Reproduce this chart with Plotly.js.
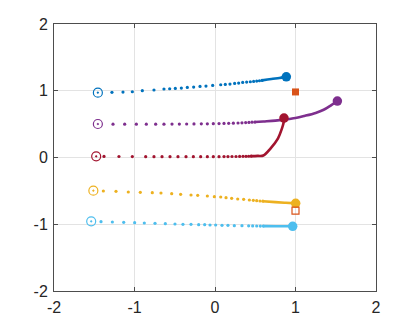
<!DOCTYPE html>
<html>
<head>
<meta charset="utf-8">
<script src="https://cdn.plot.ly/plotly-3.0.1.min.js"></script>
<style>
  html, body { margin: 0; padding: 0; background: #fff; }
  #plot { width: 415px; height: 327px; }
</style>
</head>
<body>
<div id="plot"></div>
<script>
// colours (MATLAB default order)
var names = ['blue', 'purple', 'red', 'yellow', 'cyan'];
var colors = ['#0072BD', '#7E2F8E', '#A2142F', '#EDB120', '#4DBEEE'];

// tick labels (plain hyphen like the reference)
var tickVals = [-2, -1, 0, 1, 2];
var tickText = ['-2', '-1', '0', '1', '2'];

// start points (open circle with dot)
var startX = [-1.455, -1.455, -1.476, -1.511, -1.538];
var startY = [0.971, 0.502, 0.018, -0.497, -0.956];

// end points (filled circle)
var endX = [0.886, 1.520, 0.857, 1.002, 0.965];
var endY = [1.208, 0.846, 0.590, -0.687, -1.031];

// sparse dots of each trajectory
var blueDotsX = [-1.280, -1.143, -1.027, -0.903, -0.758, -0.634, -0.563, -0.493, -0.418, -0.344,
  -0.265, -0.186, -0.112, -0.029, 0.071, 0.128, 0.186, 0.244, 0.294, 0.344, 0.393, 0.439, 0.480, 0.518, 0.552, 0.584];
var blueDotsY = [0.977, 0.980, 0.985, 1.001, 1.011, 1.026, 1.030, 1.035, 1.040, 1.050,
  1.055, 1.065, 1.070, 1.080, 1.090, 1.095, 1.100, 1.110, 1.115, 1.125, 1.130, 1.135, 1.140, 1.145, 1.150, 1.155];

var purpleDotsX = [-1.267, -1.122, -0.977, -0.853, -0.737, -0.634, -0.534, -0.443, -0.352, -0.261,
  -0.170, -0.095, -0.021, 0.050, 0.112, 0.170, 0.228, 0.286, 0.335, 0.381, 0.422, 0.460, 0.495];
var purpleDotsY = [0.500, 0.499, 0.499, 0.499, 0.500, 0.500, 0.501, 0.501, 0.502, 0.503,
  0.504, 0.505, 0.506, 0.508, 0.510, 0.512, 0.514, 0.517, 0.520, 0.523, 0.526, 0.529, 0.531];

var redDotsX = [-1.379, -1.193, -1.027, -0.861, -0.758, -0.658, -0.559, -0.460, -0.360, -0.269,
  -0.178, -0.095, -0.021, 0.050, 0.112, 0.161, 0.211, 0.261, 0.306, 0.348, 0.385, 0.418, 0.448];
var redDotsY = [0.016, 0.015, 0.014, 0.013, 0.013, 0.012, 0.012, 0.012, 0.012, 0.012,
  0.012, 0.012, 0.013, 0.013, 0.014, 0.014, 0.015, 0.015, 0.016, 0.017, 0.018, 0.019, 0.020];

var yellowDotsX = [-1.387, -1.230, -1.077, -0.928, -0.779, -0.671, -0.538, -0.427, -0.298, -0.215,
  -0.095, -0.008, 0.071, 0.137, 0.207, 0.282, 0.356, 0.427, 0.476, 0.518, 0.559, 0.595];
var yellowDotsY = [-0.502, -0.507, -0.517, -0.522, -0.527, -0.532, -0.542, -0.552, -0.562, -0.567,
  -0.577, -0.587, -0.592, -0.602, -0.612, -0.622, -0.627, -0.637, -0.642, -0.647, -0.652, -0.655];

var cyanDotsX = [-1.416, -1.275, -1.134, -0.998, -0.878, -0.745, -0.617, -0.497, -0.398, -0.298,
  -0.203, -0.128, -0.062, 0.008, 0.087, 0.161, 0.240, 0.335, 0.418, 0.468, 0.518, 0.563, 0.600];
var cyanDotsY = [-0.961, -0.966, -0.971, -0.976, -0.981, -0.986, -0.991, -0.996, -1.001, -1.001,
  -1.006, -1.006, -1.011, -1.011, -1.016, -1.016, -1.021, -1.021, -1.024, -1.025, -1.026, -1.027, -1.028];

// dense tails (dots merged into a line)
var blueTailX = [0.584, 0.700, 0.800, 0.886];
var blueTailY = [1.155, 1.176, 1.192, 1.208];

var purpleTailX = [0.495, 0.600, 0.750, 0.860, 1.000, 1.110, 1.250, 1.350, 1.445, 1.520];
var purpleTailY = [0.531, 0.540, 0.553, 0.568, 0.593, 0.623, 0.668, 0.715, 0.785, 0.846];

var redTailX = [0.448, 0.530, 0.600, 0.691, 0.783, 0.832, 0.852, 0.857];
var redTailY = [0.020, 0.024, 0.030, 0.138, 0.288, 0.437, 0.520, 0.590];

var yellowTailX = [0.595, 0.750, 0.880, 1.002];
var yellowTailY = [-0.655, -0.669, -0.679, -0.687];

var cyanTailX = [0.600, 0.750, 0.870, 0.965];
var cyanTailY = [-1.028, -1.029, -1.030, -1.031];

// target squares
var filledSqX = [1.0], filledSqY = [0.982];
var openSqX = [1.0], openSqY = [-0.797];
var squareColor = '#D95319';

var dotsX = [blueDotsX, purpleDotsX, redDotsX, yellowDotsX, cyanDotsX];
var dotsY = [blueDotsY, purpleDotsY, redDotsY, yellowDotsY, cyanDotsY];
var tailX = [blueTailX, purpleTailX, redTailX, yellowTailX, cyanTailX];
var tailY = [blueTailY, purpleTailY, redTailY, yellowTailY, cyanTailY];

var data = [];
for (var i = 0; i < names.length; i++) {
    data.push({
        x: dotsX[i], y: dotsY[i],
        type: 'scatter', mode: 'markers',
        marker: {color: colors[i], size: 3.2},
        hoverinfo: 'skip'
    });
    data.push({
        x: tailX[i], y: tailY[i],
        type: 'scatter', mode: 'lines',
        line: {color: colors[i], width: 2.6, shape: 'spline'},
        hoverinfo: 'skip'
    });
}
for (var j = 0; j < names.length; j++) {
    data.push({
        x: [startX[j]], y: [startY[j]],
        type: 'scatter', mode: 'markers',
        marker: {symbol: 'circle-open-dot', color: colors[j], size: 9, line: {width: 1.2, color: colors[j]}},
        hoverinfo: 'skip'
    });
    data.push({
        x: [endX[j]], y: [endY[j]],
        type: 'scatter', mode: 'markers',
        marker: {symbol: 'circle', color: colors[j], size: 9.5},
        hoverinfo: 'skip'
    });
}
data.push({
    x: filledSqX, y: filledSqY,
    type: 'scatter', mode: 'markers',
    marker: {symbol: 'square', color: squareColor, size: 7}
});
data.push({
    x: openSqX, y: openSqY,
    type: 'scatter', mode: 'markers',
    marker: {symbol: 'square-open', color: squareColor, size: 7, line: {width: 1.2}}
});

var axisCommon = {
    range: [-2, 2],
    tickmode: 'array',
    tickvals: tickVals,
    ticktext: tickText,
    showgrid: true,
    gridcolor: '#e3e3e3',
    zeroline: false,
    showline: true,
    linecolor: '#4d4d4d',
    linewidth: 1,
    mirror: 'ticks',
    ticks: 'inside',
    ticklen: 4,
    tickcolor: '#4d4d4d',
    ticklabelstandoff: 2,
    tickfont: {family: 'Liberation Sans, Arial, sans-serif', size: 16, color: '#262626'}
};

var layout = {
    width: 415,
    height: 327,
    margin: {l: 54, r: 39, t: 24, b: 36},
    showlegend: false,
    paper_bgcolor: '#fff',
    plot_bgcolor: '#fff',
    xaxis: Object.assign({}, axisCommon),
    yaxis: Object.assign({}, axisCommon)
};

Plotly.newPlot('plot', data, layout, {staticPlot: true, displayModeBar: false});
</script>
</body>
</html>
